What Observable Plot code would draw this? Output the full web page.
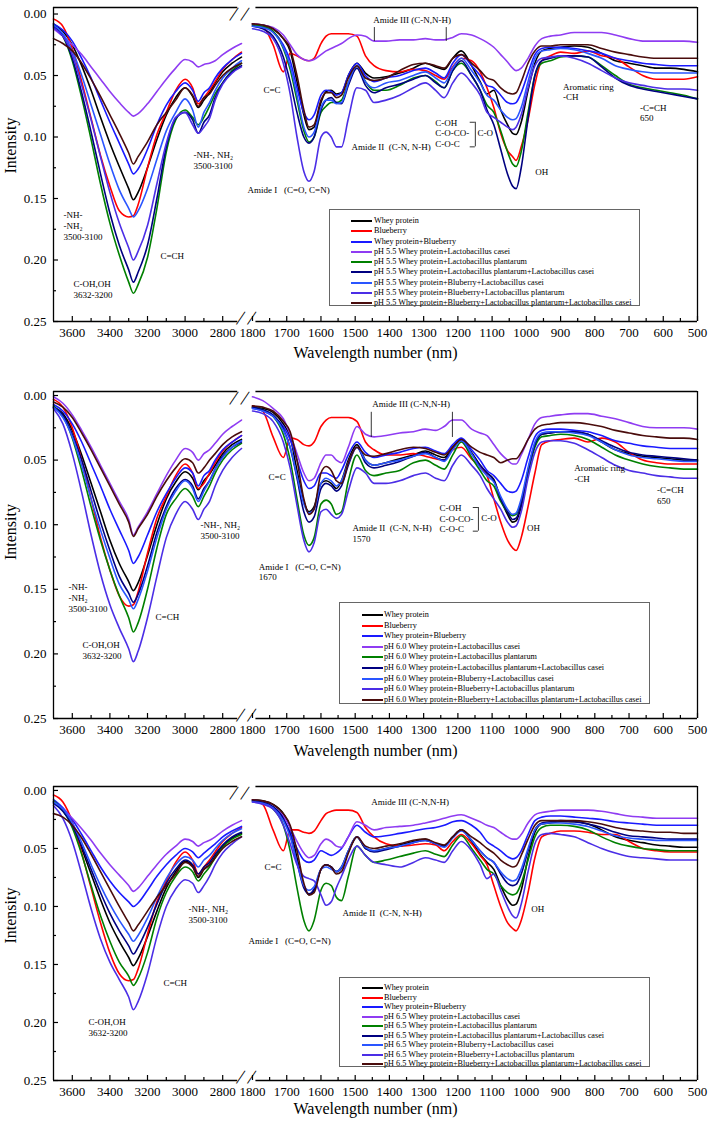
<!DOCTYPE html>
<html><head><meta charset="utf-8">
<script src="https://cdn.jsdelivr.net/npm/d3@7"></script>
<script src="https://cdn.jsdelivr.net/npm/@observablehq/plot@0.6"></script>
<style>
body{margin:0;background:#fff;}
#root{position:relative;width:708px;height:1123px;font-family:"Liberation Serif","Times New Roman",serif;overflow:hidden;}
.legend{position:absolute;border:1px solid #666;background:#fff;box-sizing:border-box;}
.legend .row{position:absolute;left:0;height:10px;font-size:8.2px;line-height:10px;white-space:nowrap;color:#000;}
.legend .sw{position:absolute;top:4px;width:21px;height:2px;}
.legend .tx{position:absolute;top:0;}
</style></head><body><div id="root"></div>
<script>
// ---- wavenumber grids ----
const xLeft = [3700,3650,3600,3550,3500,3450,3400,3350,3300,3275,3250,3200,3150,3100,3050,3000,2960,2930,2900,2870,2840,2800,2750,2700];
const xRight = [1800,1770,1740,1710,1690,1670,1650,1635,1620,1600,1585,1570,1555,1540,1520,1495,1470,1445,1410,1370,1330,1295,1265,1240,1215,1190,1160,1135,1115,1095,1075,1055,1040,1030,1015,995,975,955,930,900,860,820,780,740,700,660,620,580,540,500];

// ---- series ----
const seriesNames = ["Whey protein","Blueberry","Whey protein+Blueberry","Whey protein+Lactobacillus casei","Whey protein+Lactobacillus plantarum","Whey protein+Lactobacillus plantarum+Lactobacillus casei","Whey protein+Bluberry+Lactobacillus casei","Whey protein+Blueberry+Lactobacillus plantarum","Whey protein+Blueberry+Lactobacillus plantarum+Lactobacillus casei"];
const withPH = [false,false,false,true,true,true,true,true,true];
const seriesColors = ["#000000","#ff0000","#1a1aff","#8f3cf2","#008000","#000080","#2a55ff","#4b2ee6","#4a0c0c"];
const pHLevels = ["5.5","6.0","6.5"];

// ---- pH 5.5 ----
const p55Left = [
 [.008,.014,.025,.042,.062,.084,.105,.124,.142,.151,.145,.125,.102,.082,.068,.060,.067,.076,.070,.064,.056,.047,.040,.035],
 [.004,.010,.028,.055,.085,.115,.140,.160,.165,.164,.155,.125,.098,.080,.062,.053,.060,.073,.068,.062,.055,.045,.037,.031],
 [.008,.013,.022,.036,.052,.070,.088,.105,.122,.130,.126,.110,.090,.074,.063,.056,.062,.071,.064,.060,.052,.044,.037,.032],
 [.012,.018,.025,.033,.043,.053,.063,.072,.080,.083,.081,.073,.063,.053,.044,.037,.039,.043,.041,.040,.038,.033,.028,.024],
 [.009,.018,.038,.068,.102,.138,.170,.196,.218,.227,.220,.198,.158,.112,.086,.078,.084,.090,.084,.075,.065,.056,.046,.040],
 [.010,.018,.036,.064,.096,.130,.162,.188,.208,.218,.210,.188,.150,.108,.085,.080,.086,.097,.088,.082,.068,.056,.047,.042],
 [.009,.016,.030,.050,.074,.098,.122,.143,.158,.165,.160,.142,.118,.095,.080,.069,.078,.092,.080,.072,.062,.052,.044,.038],
 [.011,.018,.033,.058,.086,.116,.145,.170,.190,.200,.193,.172,.138,.105,.084,.080,.090,.097,.092,.085,.070,.057,.048,.043],
 [.020,.024,.030,.040,.053,.067,.082,.097,.113,.122,.116,.104,.090,.080,.070,.060,.066,.075,.068,.065,.058,.050,.044,.040]
];
const p55Right = [
 [.008,.009,.012,.020,.030,.055,.082,.094,.092,.072,.063,.062,.065,.064,.050,.040,.048,.052,.051,.048,.044,.040,.043,.045,.036,.030,.042,.055,.065,.062,.078,.090,.097,.098,.088,.062,.040,.030,.028,.027,.026,.027,.032,.038,.040,.042,.044,.044,.045,.047],
 [.008,.010,.025,.047,.032,.034,.037,.038,.036,.024,.018,.016,.016,.016,.016,.018,.034,.042,.046,.047,.045,.046,.050,.053,.043,.036,.038,.047,.060,.076,.097,.111,.116,.119,.108,.086,.057,.038,.034,.031,.032,.030,.034,.036,.043,.050,.053,.053,.053,.051],
 [.009,.010,.014,.025,.038,.060,.080,.086,.082,.066,.062,.063,.066,.064,.050,.040,.050,.055,.052,.050,.046,.044,.048,.052,.040,.033,.042,.050,.058,.060,.066,.072,.073,.072,.064,.048,.033,.028,.027,.027,.028,.030,.032,.036,.038,.040,.041,.042,.042,.042],
 [.008,.009,.011,.017,.025,.033,.037,.038,.037,.033,.030,.028,.026,.024,.020,.017,.018,.022,.022,.021,.021,.020,.021,.021,.019,.016,.017,.020,.023,.027,.033,.039,.044,.046,.044,.036,.026,.020,.018,.017,.015,.015,.015,.017,.020,.022,.022,.022,.022,.023],
 [.009,.010,.014,.028,.045,.070,.095,.104,.100,.080,.075,.072,.072,.070,.056,.042,.055,.062,.062,.058,.052,.050,.055,.060,.046,.040,.050,.062,.074,.080,.095,.112,.122,.124,.112,.080,.050,.040,.038,.035,.034,.035,.042,.050,.057,.060,.062,.064,.066,.069],
 [.010,.012,.018,.035,.055,.080,.100,.105,.100,.078,.070,.068,.072,.073,.058,.044,.058,.064,.060,.057,.053,.050,.056,.060,.046,.038,.050,.062,.078,.090,.110,.130,.140,.142,.125,.085,.050,.038,.036,.034,.034,.035,.043,.052,.058,.061,.063,.065,.067,.069],
 [.010,.011,.015,.027,.042,.066,.092,.100,.096,.076,.070,.070,.073,.072,.056,.042,.055,.060,.056,.054,.050,.047,.052,.056,.044,.036,.046,.056,.066,.070,.078,.084,.086,.085,.076,.055,.036,.030,.029,.028,.029,.032,.036,.042,.045,.047,.048,.048,.048,.048],
 [.012,.014,.020,.040,.065,.100,.128,.136,.128,.100,.096,.100,.108,.108,.085,.060,.062,.072,.070,.066,.060,.056,.062,.068,.056,.048,.056,.066,.080,.084,.088,.092,.094,.092,.082,.060,.042,.036,.035,.034,.036,.040,.046,.052,.056,.058,.060,.061,.061,.062],
 [.008,.009,.012,.020,.028,.050,.078,.092,.090,.070,.064,.064,.068,.066,.052,.042,.052,.054,.052,.046,.041,.040,.042,.044,.036,.033,.040,.046,.052,.054,.060,.064,.065,.064,.055,.040,.030,.026,.026,.025,.025,.025,.028,.031,.033,.035,.036,.036,.036,.036]
];

// ---- pH 6.0 ----
const p60Left = [
 [.009,.014,.027,.046,.068,.090,.112,.130,.144,.151,.145,.124,.100,.080,.067,.059,.064,.073,.066,.061,.054,.045,.038,.034],
 [.003,.009,.025,.050,.080,.110,.135,.155,.163,.162,.152,.122,.095,.078,.062,.053,.060,.072,.068,.060,.052,.043,.036,.031],
 [.007,.012,.022,.036,.053,.070,.088,.104,.120,.130,.125,.108,.090,.076,.064,.056,.060,.070,.062,.058,.050,.042,.036,.031],
 [.001,.006,.015,.027,.040,.054,.068,.082,.096,.108,.102,.090,.076,.062,.050,.041,.044,.050,.045,.042,.037,.030,.024,.019],
 [.008,.016,.033,.058,.086,.112,.135,.155,.172,.183,.176,.150,.118,.092,.080,.072,.078,.086,.078,.070,.060,.050,.042,.037],
 [.009,.015,.030,.050,.074,.098,.120,.140,.153,.160,.154,.132,.106,.086,.072,.065,.070,.080,.072,.066,.057,.047,.040,.036],
 [.009,.017,.032,.054,.080,.104,.126,.146,.158,.165,.158,.136,.110,.088,.074,.066,.072,.082,.074,.066,.057,.048,.040,.035],
 [.010,.022,.045,.075,.108,.138,.162,.180,.196,.206,.198,.172,.140,.110,.092,.082,.088,.096,.088,.082,.070,.058,.048,.041],
 [.005,.009,.017,.029,.042,.056,.070,.084,.098,.109,.103,.092,.078,.066,.056,.049,.052,.060,.056,.050,.045,.038,.032,.028]
];
const p60Right = [
 [.009,.010,.013,.022,.032,.058,.082,.090,.086,.068,.066,.068,.072,.066,.050,.038,.050,.054,.052,.049,.046,.043,.046,.048,.040,.034,.044,.054,.060,.065,.080,.092,.098,.097,.086,.058,.038,.030,.029,.028,.028,.030,.036,.042,.045,.047,.048,.049,.050,.050],
 [.008,.012,.032,.048,.033,.034,.038,.039,.036,.024,.019,.017,.017,.017,.017,.020,.036,.042,.046,.046,.045,.047,.049,.050,.042,.040,.049,.055,.062,.080,.098,.112,.118,.120,.110,.086,.060,.038,.035,.034,.033,.036,.033,.036,.044,.050,.052,.053,.053,.053],
 [.010,.012,.016,.024,.034,.050,.066,.072,.070,.060,.060,.062,.064,.058,.046,.036,.044,.048,.046,.044,.041,.040,.043,.045,.038,.033,.042,.050,.058,.062,.068,.074,.075,.074,.066,.048,.032,.027,.026,.026,.027,.028,.031,.035,.037,.039,.040,.041,.041,.041],
 [.001,.004,.010,.018,.030,.045,.060,.066,.064,.052,.046,.046,.050,.052,.040,.024,.030,.032,.031,.029,.028,.026,.027,.024,.019,.019,.026,.029,.031,.038,.045,.050,.053,.053,.046,.034,.022,.017,.016,.015,.014,.014,.016,.018,.021,.024,.025,.025,.025,.026],
 [.009,.011,.016,.030,.050,.080,.108,.116,.110,.084,.081,.084,.092,.090,.066,.046,.058,.062,.060,.058,.052,.050,.054,.057,.046,.036,.048,.058,.066,.070,.082,.090,.093,.092,.082,.060,.040,.032,.031,.030,.031,.034,.040,.046,.050,.053,.055,.056,.057,.057],
 [.009,.011,.015,.026,.040,.064,.090,.098,.094,.072,.068,.070,.074,.070,.054,.040,.052,.056,.054,.051,.047,.044,.048,.050,.041,.035,.045,.054,.060,.066,.080,.090,.096,.095,.084,.058,.038,.030,.029,.028,.028,.030,.035,.040,.044,.046,.047,.048,.049,.050],
 [.010,.012,.016,.027,.040,.062,.084,.091,.088,.068,.064,.066,.070,.066,.052,.040,.050,.054,.052,.050,.047,.045,.048,.051,.042,.035,.045,.056,.062,.067,.078,.088,.092,.091,.080,.056,.036,.029,.028,.028,.029,.031,.036,.042,.046,.048,.049,.050,.051,.051],
 [.012,.014,.020,.036,.056,.085,.112,.121,.114,.090,.088,.092,.095,.092,.074,.056,.060,.068,.068,.066,.062,.060,.064,.066,.054,.046,.054,.062,.072,.080,.088,.098,.102,.101,.090,.064,.044,.036,.035,.035,.037,.042,.048,.054,.058,.060,.062,.063,.064,.064],
 [.008,.009,.012,.020,.028,.050,.080,.092,.088,.060,.055,.058,.066,.068,.052,.040,.046,.047,.045,.042,.040,.041,.044,.046,.040,.034,.040,.044,.046,.048,.052,.050,.049,.049,.044,.034,.026,.023,.022,.021,.021,.022,.024,.027,.029,.031,.032,.033,.033,.034]
];

// ---- pH 6.5 ----
const p65Left = [
 [.010,.017,.030,.050,.072,.094,.114,.130,.144,.151,.145,.126,.104,.084,.070,.061,.065,.075,.068,.064,.057,.048,.041,.037],
 [.004,.010,.027,.054,.084,.114,.140,.158,.164,.163,.154,.124,.096,.078,.062,.053,.060,.072,.066,.060,.053,.044,.037,.032],
 [.008,.015,.025,.038,.052,.066,.078,.088,.096,.100,.097,.086,.074,.064,.056,.050,.053,.058,.054,.050,.046,.040,.035,.031],
 [.010,.016,.024,.033,.043,.054,.064,.073,.082,.087,.084,.074,.064,.055,.048,.042,.044,.048,.045,.043,.040,.035,.030,.026],
 [.009,.017,.032,.055,.082,.108,.130,.148,.160,.168,.162,.140,.110,.088,.074,.066,.070,.078,.072,.066,.058,.049,.042,.038],
 [.011,.018,.030,.048,.068,.088,.106,.121,.134,.141,.135,.118,.098,.080,.068,.060,.064,.072,.066,.062,.055,.047,.040,.036],
 [.010,.016,.028,.045,.064,.082,.098,.112,.124,.130,.125,.110,.092,.076,.064,.057,.060,.066,.060,.056,.050,.043,.037,.033],
 [.013,.024,.044,.072,.102,.128,.148,.163,.178,.189,.182,.158,.126,.100,.085,.077,.080,.088,.082,.074,.064,.054,.046,.040],
 [.020,.023,.030,.041,.055,.070,.085,.100,.114,.121,.116,.104,.092,.082,.072,.062,.066,.074,.068,.064,.058,.050,.044,.040]
];
const p65Right = [
 [.008,.009,.012,.020,.032,.058,.082,.090,.086,.068,.064,.066,.070,.066,.052,.040,.050,.052,.050,.047,.044,.042,.046,.048,.040,.034,.044,.055,.062,.068,.082,.094,.099,.098,.086,.058,.036,.029,.028,.027,.027,.029,.034,.040,.043,.045,.047,.048,.049,.049],
 [.008,.012,.034,.052,.034,.034,.036,.037,.035,.026,.020,.018,.017,.017,.017,.019,.032,.040,.046,.048,.047,.046,.047,.052,.044,.038,.046,.056,.064,.082,.100,.114,.119,.121,.112,.088,.058,.040,.037,.035,.035,.036,.038,.038,.044,.050,.052,.053,.053,.053],
 [.009,.011,.015,.025,.036,.050,.060,.062,.060,.052,.054,.056,.054,.050,.040,.030,.036,.040,.039,.037,.035,.033,.032,.030,.027,.026,.030,.036,.044,.048,.052,.057,.059,.058,.052,.038,.026,.023,.022,.022,.023,.024,.025,.027,.028,.029,.030,.030,.030,.030],
 [.008,.010,.014,.022,.032,.044,.054,.058,.056,.046,.042,.044,.048,.049,.040,.027,.030,.034,.032,.031,.030,.028,.026,.024,.022,.021,.024,.027,.030,.032,.036,.040,.042,.042,.038,.028,.021,.019,.018,.017,.017,.017,.018,.020,.022,.023,.024,.024,.024,.024],
 [.009,.011,.016,.030,.052,.084,.112,.121,.112,.086,.080,.082,.092,.095,.074,.048,.056,.062,.060,.057,.054,.052,.055,.057,.047,.039,.050,.060,.068,.072,.082,.088,.090,.089,.080,.060,.040,.032,.030,.030,.031,.034,.040,.045,.048,.050,.051,.052,.052,.052],
 [.009,.010,.014,.024,.038,.062,.084,.089,.085,.068,.064,.066,.070,.067,.053,.040,.050,.053,.051,.048,.045,.043,.046,.048,.040,.034,.043,.052,.058,.062,.072,.080,.082,.081,.072,.052,.034,.028,.027,.026,.027,.029,.032,.036,.039,.040,.041,.042,.042,.042],
 [.010,.011,.015,.026,.040,.062,.082,.086,.083,.068,.066,.068,.070,.066,.052,.040,.049,.052,.050,.048,.045,.043,.046,.049,.041,.035,.043,.052,.058,.062,.070,.076,.078,.077,.068,.050,.034,.029,.028,.028,.029,.031,.035,.039,.041,.042,.043,.043,.043,.043],
 [.010,.012,.016,.030,.046,.064,.074,.076,.078,.090,.099,.096,.084,.074,.060,.048,.056,.062,.064,.066,.062,.058,.060,.062,.052,.044,.052,.064,.076,.072,.086,.100,.108,.110,.098,.070,.046,.038,.037,.038,.040,.045,.050,.054,.057,.058,.059,.060,.060,.060],
 [.008,.009,.012,.020,.030,.052,.080,.090,.088,.068,.064,.066,.072,.070,.054,.040,.048,.050,.048,.046,.043,.042,.045,.047,.040,.034,.040,.045,.050,.054,.060,.064,.066,.065,.056,.042,.030,.026,.026,.026,.026,.027,.029,.032,.034,.035,.036,.036,.037,.037]
];

// ---- axis ticks ----
const xMajorLeft = [3600,3400,3200,3000,2800];
const xMinorLeft = [3500,3300,3100,2900];
const xMajorRight = [1800,1700,1600,1500,1400,1300,1200,1100,1000,900,800,700,600,500];
const xMinorRight = [1750,1650,1550,1450,1350,1250,1150,1050,950,850,750,650,550];
const yMajorTicks = [0,0.05,0.10,0.15,0.20,0.25];
const yMinorTicks = [0.025,0.075,0.125,0.175,0.225];

// ---- annotations (wavenumber, intensity) ----
const notes55 = [
 {x:2955,y:0.115,t:"-NH-, NH₂\n3500-3100"},
 {x:3647,y:0.164,t:"-NH-\n-NH₂\n3500-3100"},
 {x:3131,y:0.1976,t:"C=CH"},
 {x:3594,y:0.220,t:"C-OH,OH\n3632-3200"},
 {x:1447,y:0.0053,t:"Amide III (C-N,N-H)"},
 {x:1768,y:0.062,t:"C=C"},
 {x:1511,y:0.109,t:"Amide II\u00a0\u00a0(C-N, N-H)"},
 {x:1800,y:0.144,t:"Amide I\u00a0\u00a0\u00a0(C=O, C=N)",shift:-5},
 {x:1266,y:0.0889,t:"C-OH\nC-O-CO-\nC-O-C"},
 {x:1143,y:0.097,t:"C-O"},
 {x:974,y:0.129,t:"OH"},
 {x:893,y:0.0597,t:"Aromatic ring\n-CH"},
 {x:668,y:0.0767,t:"-C=CH\n650"}
];
const notes60 = [
 {x:2918,y:0.1006,t:"-NH-, NH₂\n3500-3100"},
 {x:3620,y:0.149,t:"-NH-\n-NH₂\n3500-3100"},
 {x:3157,y:0.172,t:"C=CH"},
 {x:3546,y:0.1935,t:"C-OH,OH\n3632-3200"},
 {x:1450,y:0.007,t:"Amide III (C-N,N-H)"},
 {x:1753,y:0.064,t:"C=C"},
 {x:1508,y:0.103,t:"Amide II\u00a0\u00a0(C-N, N-H)\n1570"},
 {x:1782,y:0.133,t:"Amide I\u00a0\u00a0\u00a0(C=O, C=N)\n1670"},
 {x:1254,y:0.0875,t:"C-OH\nC-O-CO-\nC-O-C"},
 {x:1132,y:0.095,t:"C-O"},
 {x:998,y:0.103,t:"OH"},
 {x:860,y:0.0565,t:"Aromatic ring\n-CH"},
 {x:618,y:0.0735,t:"-C=CH\n650"}
];
const notes65 = [
 {x:2982,y:0.1026,t:"-NH-, NH₂\n3500-3100"},
 {x:3115,y:0.167,t:"C=CH"},
 {x:3514,y:0.200,t:"C-OH,OH\n3632-3200"},
 {x:1453,y:0.0103,t:"Amide III (C-N,N-H)"},
 {x:1765,y:0.067,t:"C=C"},
 {x:1537,y:0.106,t:"Amide II\u00a0\u00a0(C-N, N-H)"},
 {x:1800,y:0.130,t:"Amide I\u00a0\u00a0\u00a0(C=O, C=N)",shift:-4},
 {x:986,y:0.103,t:"OH"}
];
// bracket strokes: vertical (x, y1, y2) and horizontal (y, x1, x2)
const vBrackets55 = [{x:1444,y1:0.011,y2:0.0223},{x:1234,y1:0.011,y2:0.0223},{x:1149,y1:0.088,y2:0.108}];
const hBrackets55 = [{y:0.088,x1:1164,x2:1149},{y:0.108,x1:1164,x2:1149}];
const vBrackets60 = [{x:1453,y1:0.013,y2:0.0325},{x:1216,y1:0.013,y2:0.0325},{x:1140,y1:0.0867,y2:0.105}];
const hBrackets60 = [{y:0.0867,x1:1155,x2:1140},{y:0.105,x1:1155,x2:1140}];
const vBrackets65 = [];
const hBrackets65 = [];

// ---- layout ----
const FONT = '"Liberation Serif","Times New Roman",serif';
const panels = [
 {L:p55Left,R:p55Right,notes:notes55,vb:vBrackets55,hb:hBrackets55,top:0,height:370,mt:7,mb:49,ymin:-0.0053,tdy:36,idy:9,
  leg:{left:329,top:209,w:311,h:97,row0:11,step:10.25,swL:21,txL:44}},
 {L:p60Left,R:p60Right,notes:notes60,vb:vBrackets60,hb:hBrackets60,top:370,height:395,mt:21,mb:47,ymin:-0.0031,tdy:37,idy:5,
  leg:{left:339,top:602,w:311,h:102,row0:12,step:10.6,swL:22,txL:44}},
 {L:p65Left,R:p65Right,notes:notes65,vb:vBrackets65,hb:hBrackets65,top:765,height:358,mt:21,mb:43,ymin:-0.0034,tdy:33,idy:10,
  leg:{left:339,top:977,w:311,h:90,row0:10,step:9.5,swL:22,txL:44}}
];

const root = document.getElementById("root");
const txt = {textAnchor: "start", lineAnchor: "top", dy: -5.4, fontSize: 9, lineHeight: 1.2, fill: "#000"};

function rowsOf(matrix, xs) {
  const out = [];
  matrix.forEach((vals, s) => vals.forEach((v, j) => out.push({x: xs[j], y: v, k: s, c: seriesColors[s]})));
  return out;
}

function place(chart, top) {
  chart.style.position = "absolute";
  chart.style.top = top + "px";
  chart.style.left = "0px";
  root.appendChild(chart);
}

panels.forEach((p, pi) => {
  const common = {
    width: 708, height: p.height,
    marginTop: p.mt, marginBottom: p.mb, marginLeft: 53, marginRight: 11,
    style: {fontFamily: FONT, fontSize: "13px", background: "transparent", overflow: "visible", color: "#000"},
    color: {type: "identity"}
  };
  const leftNotes = p.notes.filter(d => d.x >= 2700);
  const rightNotes = p.notes.filter(d => d.x < 2700 && !d.shift);
  const shifted = p.notes.filter(d => d.shift);

  // ---------- left segment (3700–2700) ----------
  const left = Plot.plot({
    ...common,
    x: {domain: [3700, 2700], range: [53, 241]},
    y: {domain: [p.ymin, 0.25], reverse: true},
    marks: [
      Plot.line(rowsOf(p.L, xLeft), {x: "x", y: "y", z: "k", stroke: "c", strokeWidth: 1.6, curve: "monotone-x"}),
      Plot.ruleX([3700], {stroke: "#000", strokeWidth: 1.3}),
      Plot.ruleY([p.ymin, 0.25], {x1: 3700, x2: 2720, stroke: "#000", strokeWidth: 1.3}),
      Plot.axisX({ticks: xMajorLeft, tickSize: 5, dy: -5, tickFormat: () => "", label: null, strokeWidth: 1.2}),
      Plot.axisX({ticks: xMinorLeft, tickSize: 3, dy: -3, tickFormat: () => "", label: null, strokeWidth: 1.2}),
      Plot.axisX({ticks: xMajorLeft, tickSize: 0, tickPadding: 6, tickFormat: d => String(d), label: null, fontSize: 13}),
      Plot.axisY({ticks: yMajorTicks, tickSize: 5, dx: 5, tickFormat: () => "", label: null, strokeWidth: 1.2}),
      Plot.axisY({ticks: yMinorTicks, tickSize: 3, dx: 3, tickFormat: () => "", label: null, strokeWidth: 1.2}),
      Plot.axisY({ticks: yMajorTicks, tickSize: 0, tickPadding: 7, tickFormat: d3.format(".2f"), label: null, fontSize: 13}),
      Plot.text(leftNotes, {x: "x", y: "y", text: "t", ...txt}),
      Plot.text(["Intensity"], {frameAnchor: "left", text: d => d, rotate: -90, dx: -43, dy: p.idy, fontSize: 16, fill: "#000"})
    ]
  });
  place(left, p.top);

  // ---------- right segment (1800–500) ----------
  const right = Plot.plot({
    ...common,
    x: {domain: [1800, 500], range: [252, 697]},
    y: {domain: [p.ymin, 0.25], reverse: true, axis: null},
    marks: [
      Plot.line(rowsOf(p.R, xRight), {x: "x", y: "y", z: "k", stroke: "c", strokeWidth: 1.6, curve: "monotone-x"}),
      Plot.ruleX([500], {stroke: "#000", strokeWidth: 1.3}),
      Plot.ruleY([p.ymin, 0.25], {x1: 1790, x2: 500, stroke: "#000", strokeWidth: 1.3}),
      // axis-break marks
      ...["top", "bottom"].flatMap(fa => [-14, -3].map(dx =>
        Plot.text([1800], {x: d => d, frameAnchor: fa, text: () => "|", rotate: 34, dx, fontSize: 17, fill: "#000"}))),
      Plot.axisX({ticks: xMajorRight, tickSize: 5, dy: -5, tickFormat: () => "", label: null, strokeWidth: 1.2}),
      Plot.axisX({ticks: xMinorRight, tickSize: 3, dy: -3, tickFormat: () => "", label: null, strokeWidth: 1.2}),
      Plot.axisX({ticks: xMajorRight, tickSize: 0, tickPadding: 6, tickFormat: d => String(d), label: null, fontSize: 13}),
      Plot.text(rightNotes, {x: "x", y: "y", text: "t", ...txt}),
      ...shifted.map(d => Plot.text([d], {x: "x", y: "y", text: "t", ...txt, dx: d.shift})),
      Plot.ruleX(p.vb, {x: "x", y1: "y1", y2: "y2", stroke: "#000", strokeWidth: 0.8}),
      Plot.ruleY(p.hb, {y: "y", x1: "x1", x2: "x2", stroke: "#000", strokeWidth: 0.8}),
      Plot.text(["Wavelength number (nm)"], {frameAnchor: "bottom", text: d => d, dy: p.tdy, fontSize: 16, fill: "#000"})
    ]
  });
  place(right, p.top);

  // ---------- legend ----------
  const g = p.leg;
  const box = document.createElement("div");
  box.className = "legend";
  Object.assign(box.style, {left: g.left + "px", top: g.top + "px", width: g.w + "px", height: g.h + "px"});
  seriesNames.forEach((name, i) => {
    const row = document.createElement("div");
    row.className = "row";
    row.style.top = (g.row0 + i * g.step - 5) + "px";
    const sw = document.createElement("div");
    sw.className = "sw";
    sw.style.left = g.swL + "px";
    sw.style.background = seriesColors[i];
    const tx = document.createElement("div");
    tx.className = "tx";
    tx.style.left = g.txL + "px";
    tx.textContent = (withPH[i] ? "pH " + pHLevels[pi] + " " : "") + name;
    row.appendChild(sw); row.appendChild(tx);
    box.appendChild(row);
  });
  root.appendChild(box);
});
</script></body></html>
